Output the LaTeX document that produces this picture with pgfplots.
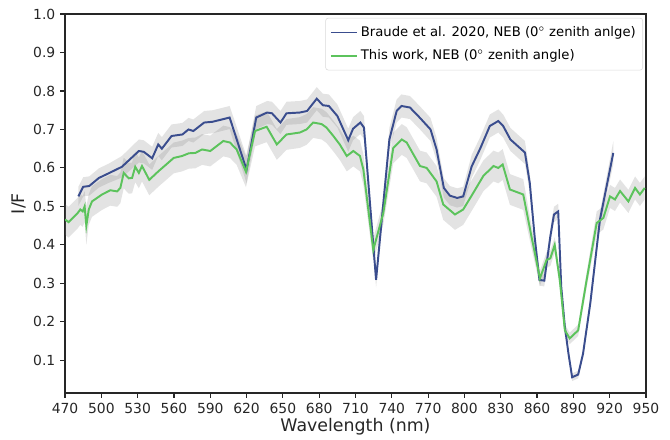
\documentclass[border=0pt]{standalone}
\usepackage{fontspec}
\setmainfont{DejaVu Sans}
\usepackage{pgfplots}
\pgfplotsset{compat=1.18}
\usepgfplotslibrary{fillbetween}
\usepackage{pgfplotstable}
\definecolor{bluec}{HTML}{3A4D8E}
\definecolor{greenc}{HTML}{5CC35C}
\pgfplotstableread{
wl v e
481 0.526 0.025
485 0.551 0.025
490 0.553 0.025
498 0.574 0.025
506 0.586 0.025
517 0.603 0.028
531 0.644 0.03
535 0.642 0.03
542 0.625 0.03
547 0.661 0.03
550 0.650 0.03
558 0.683 0.03
567 0.687 0.03
572 0.700 0.03
576 0.696 0.03
585 0.718 0.03
592 0.720 0.03
606 0.731 0.03
620 0.595 0.035
628 0.731 0.03
637 0.744 0.03
641 0.742 0.03
648 0.718 0.03
653 0.742 0.03
664 0.744 0.03
670 0.748 0.03
678 0.780 0.03
683 0.763 0.03
688 0.761 0.03
695 0.735 0.03
704 0.672 0.03
708 0.702 0.03
714 0.718 0.03
717 0.705 0.03
727 0.309 0.02
738 0.674 0.03
744 0.748 0.03
748 0.761 0.03
755 0.757 0.03
763 0.731 0.03
772 0.700 0.03
777 0.648 0.03
783 0.548 0.025
788 0.528 0.025
794 0.522 0.025
799 0.526 0.025
806 0.604 0.03
813 0.650 0.03
821 0.709 0.03
828 0.722 0.03
832 0.709 0.03
838 0.674 0.03
850 0.640 0.03
854 0.561 0.025
858 0.422 0.02
862 0.309 0.015
866 0.307 0.015
871 0.422 0.02
874 0.479 0.02
877.5 0.487 0.02
880 0.291 0.015
883 0.187 0.01
886 0.117 0.01
889 0.056 0.01
894 0.063 0.01
898 0.117 0.01
904 0.248 0.015
912 0.466 0.02
923 0.639 0.03
}\bluedata
\pgfplotstableread{
wl v e
470 0.466 0.04
473 0.459 0.04
477 0.472 0.04
480 0.481 0.04
482.6 0.492 0.04
484.6 0.487 0.04
486.2 0.500 0.04
487.6 0.450 0.05
489.6 0.492 0.04
492.3 0.513 0.04
500.6 0.531 0.04
507.4 0.542 0.04
513 0.539 0.04
515.7 0.548 0.04
518.5 0.587 0.04
522.6 0.573 0.04
525.4 0.574 0.04
528 0.603 0.04
531 0.587 0.04
533.6 0.605 0.04
539.6 0.569 0.04
547.4 0.592 0.04
552.9 0.607 0.04
559.8 0.626 0.04
566.7 0.631 0.04
572.2 0.638 0.04
577.7 0.639 0.04
583.2 0.648 0.04
590 0.644 0.04
600.8 0.670 0.04
606.3 0.666 0.04
611.8 0.648 0.04
619.5 0.590 0.04
627 0.696 0.04
636.6 0.707 0.04
645 0.661 0.04
653 0.687 0.04
664 0.692 0.04
669.6 0.700 0.04
675 0.718 0.04
682 0.714 0.04
686 0.705 0.04
691.7 0.683 0.04
697 0.661 0.04
702.8 0.631 0.04
708.2 0.644 0.04
713.7 0.631 0.04
716.5 0.596 0.04
724.7 0.387 0.03
733 0.483 0.03
741.2 0.652 0.04
748.2 0.674 0.04
752.3 0.666 0.04
763.3 0.605 0.04
768.8 0.600 0.04
777 0.565 0.04
782.5 0.505 0.04
792.2 0.479 0.04
799 0.492 0.04
807.3 0.535 0.04
815.6 0.579 0.04
824 0.605 0.04
828 0.600 0.04
831.6 0.609 0.04
837.6 0.544 0.04
848.6 0.531 0.04
855.4 0.422 0.03
862.4 0.313 0.02
867.9 0.361 0.02
871 0.365 0.02
874.6 0.400 0.02
878.8 0.309 0.02
883 0.178 0.015
887 0.157 0.015
894 0.178 0.015
901 0.309 0.02
909.3 0.457 0.03
914.8 0.470 0.03
920.3 0.526 0.03
924.4 0.518 0.03
928.6 0.540 0.03
935.5 0.513 0.03
941 0.548 0.03
945 0.531 0.03
949 0.548 0.03
}\greendata
\begin{document}
\begin{tikzpicture}
\begin{axis}[
  scale only axis,
  width=418pt, height=272.7pt,
  xmin=470, xmax=950, ymin=0.015, ymax=1.0,
  xtick={470,500,...,950},
  ytick={0.1,0.2,...,1.0},
  yticklabel style={/pgf/number format/fixed,/pgf/number format/fixed zerofill,/pgf/number format/precision=1},
  xticklabel style={/pgf/number format/1000 sep={}},
  /pgf/number format/assume math mode=true,
  tick label style={font=\fontsize{10}{12}\selectfont, text=black!85},
  label style={font=\fontsize{12.5}{14}\selectfont, text=black!85},
  xlabel={Wavelength (nm)},
  ylabel={I/F},
  xlabel style={yshift=3pt},
  ylabel style={yshift=-2pt},
  tick align=outside, xtick pos=bottom, ytick pos=left,
  major tick length=3.5pt,
  every tick/.style={black!85, line width=0.8pt},
  axis line style={black!85, line width=0.8pt},
  legend style={at={(0.995,0.99)}, anchor=north east, draw=black!15, rounded corners=2pt, fill=white, fill opacity=0.85, text opacity=1, font=\fontsize{9.5}{11}\selectfont, inner xsep=3pt, inner ysep=4pt, row sep=4pt},
  legend cell align=left,
  legend image code/.code={\draw[#1] (0pt,0pt) -- (19pt,0pt);},
]
\addplot[name path=bu, draw=none, forget plot] table[x=wl, y expr=\thisrow{v}+\thisrow{e}] {\bluedata};
\addplot[name path=bl, draw=none, forget plot] table[x=wl, y expr=\thisrow{v}-\thisrow{e}] {\bluedata};
\addplot[fill=gray, fill opacity=0.22, draw=none, forget plot] fill between[of=bu and bl];
\addplot[name path=gu, draw=none, forget plot] table[x=wl, y expr=\thisrow{v}+\thisrow{e}] {\greendata};
\addplot[name path=gl, draw=none, forget plot] table[x=wl, y expr=\thisrow{v}-\thisrow{e}] {\greendata};
\addplot[fill=gray, fill opacity=0.22, draw=none, forget plot] fill between[of=gu and gl];
\addplot[bluec, line width=1.4pt] table[x=wl, y=v] {\bluedata};
\addlegendentry{Braude et al. 2020, NEB (0$^\circ$ zenith anlge)}
\addplot[greenc, line width=1.4pt] table[x=wl, y=v] {\greendata};
\addlegendentry{This work, NEB (0$^\circ$ zenith angle)}
\end{axis}
\pgfresetboundingbox
\path[use as bounding box] (-46.8pt,-33.1pt) rectangle (435.3pt,282.8pt);
\end{tikzpicture}
\end{document}
